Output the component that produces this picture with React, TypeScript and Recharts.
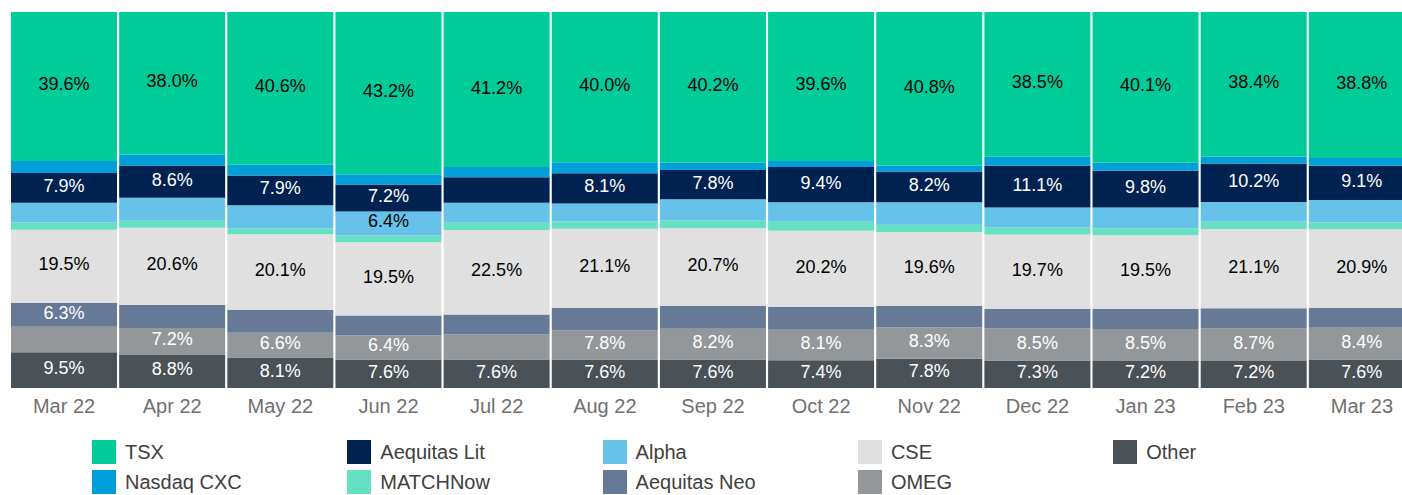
import { BarChart, Bar, XAxis, YAxis, LabelList } from "recharts";

const months = ["Mar 22", "Apr 22", "May 22", "Jun 22", "Jul 22", "Aug 22", "Sep 22", "Oct 22", "Nov 22", "Dec 22", "Jan 23", "Feb 23", "Mar 23"];

const tsx = [39.6, 38.0, 40.6, 43.2, 41.2, 40.0, 40.2, 39.6, 40.8, 38.5, 40.1, 38.4, 38.8];
const nasdaqCxc = [3.2, 2.9, 2.9, 2.7, 2.7, 2.9, 1.9, 1.6, 1.6, 2.4, 2.1, 1.9, 2.1];
const aequitasLit = [7.9, 8.6, 7.9, 7.2, 6.8, 8.1, 7.8, 9.4, 8.2, 11.1, 9.8, 10.2, 9.1];
const alpha = [5.3, 6.1, 6.1, 6.4, 5.3, 4.8, 5.6, 5.2, 6.0, 5.3, 5.5, 5.3, 5.9];
const matchNow = [1.9, 1.9, 1.6, 1.8, 1.9, 1.9, 2.1, 2.4, 1.9, 1.9, 1.9, 1.9, 1.9];
const cse = [19.5, 20.6, 20.1, 19.5, 22.5, 21.1, 20.7, 20.2, 19.6, 19.7, 19.5, 21.1, 20.9];
const aequitasNeo = [6.3, 6.1, 6.1, 5.3, 5.3, 5.9, 6.1, 6.1, 5.8, 5.3, 5.4, 5.3, 5.3];
const omeg = [6.8, 7.2, 6.6, 6.4, 6.6, 7.8, 8.2, 8.1, 8.3, 8.5, 8.5, 8.7, 8.4];
const other = [9.5, 8.8, 8.1, 7.6, 7.6, 7.6, 7.6, 7.4, 7.8, 7.3, 7.2, 7.2, 7.6];

// which months carry a value label, per series
const tsxLabels = months;
const litLabels = months.filter((m) => m !== "Jul 22");
const alphaLabels = ["Jun 22"];
const cseLabels = months;
const neoLabels = ["Mar 22"];
const omegLabels = months.filter((m) => m !== "Mar 22" && m !== "Jul 22");
const otherLabels = months;

// bottom to top
const SERIES = [
  { key: "other", name: "Other", values: other, color: "#4a5157", text: "#ffffff", labels: otherLabels },
  { key: "omeg", name: "OMEG", values: omeg, color: "#939799", text: "#ffffff", labels: omegLabels },
  { key: "neo", name: "Aequitas Neo", values: aequitasNeo, color: "#667a98", text: "#ffffff", labels: neoLabels },
  { key: "cse", name: "CSE", values: cse, color: "#dfe0df", text: "#000000", labels: cseLabels },
  { key: "matchnow", name: "MATCHNow", values: matchNow, color: "#66e0c2", text: "#000000", labels: [] as string[] },
  { key: "alpha", name: "Alpha", values: alpha, color: "#66c2e9", text: "#000000", labels: alphaLabels },
  { key: "lit", name: "Aequitas Lit", values: aequitasLit, color: "#002251", text: "#ffffff", labels: litLabels },
  { key: "nasdaq", name: "Nasdaq CXC", values: nasdaqCxc, color: "#009fda", text: "#ffffff", labels: [] as string[] },
  { key: "tsx", name: "TSX", values: tsx, color: "#00cc99", text: "#000000", labels: tsxLabels },
];

const LEGEND_ROWS = [
  ["TSX", "Aequitas Lit", "Alpha", "CSE", "Other"],
  ["Nasdaq CXC", "MATCHNow", "Aequitas Neo", "OMEG"],
];

const data = months.map((m, i) => {
  const row: Record<string, string | number> = { month: m };
  SERIES.forEach((s) => {
    row[s.key] = s.values[i];
  });
  return row;
});

const FONT = "'Liberation Sans', Arial, sans-serif";

function makeLabel(s: (typeof SERIES)[number]) {
  return (props: any) => {
    const { x, y, width, height, index } = props;
    if (!s.labels.includes(months[index])) return null;
    return (
      <text
        x={x + width / 2}
        y={y + height / 2 - 2}
        textAnchor="middle"
        dominantBaseline="central"
        fontSize={18}
        fill={s.text}
        fontFamily={FONT}
      >
        {s.values[index].toFixed(1)}%
      </text>
    );
  };
}

export default function App() {
  return (
    <div
      style={{
        position: "absolute",
        left: 0,
        top: 0,
        width: 1402,
        height: 495,
        overflow: "hidden",
        background: "#fff",
        fontFamily: FONT,
      }}
    >
      <BarChart
        width={1416}
        height={420}
        data={data}
        stackOffset="expand"
        barCategoryGap={1}
        margin={{ top: 12, right: 0, left: 10, bottom: 0 }}
      >
        <XAxis
          dataKey="month"
          height={32}
          axisLine={false}
          tickLine={false}
          tickMargin={5}
          interval={0}
          tick={{ fontSize: 20, fill: "#707070", fontFamily: FONT }}
        />
        <YAxis hide domain={[0, 1]} />
        {SERIES.map((s) => (
          <Bar key={s.key} dataKey={s.key} name={s.name} stackId="a" fill={s.color} isAnimationActive={false}>
            <LabelList dataKey={s.key} content={makeLabel(s)} />
          </Bar>
        ))}
      </BarChart>
      {LEGEND_ROWS.map((row, r) =>
        row.map((name, c) => {
          const s = SERIES.find((x) => x.name === name)!;
          return (
            <div
              key={name}
              style={{
                position: "absolute",
                left: 92 + c * 255.3,
                top: 440 + r * 30,
                display: "flex",
                alignItems: "center",
                height: 24,
              }}
            >
              <div style={{ width: 24, height: 24, background: s.color, marginRight: 9 }} />
              <span style={{ fontSize: 20, lineHeight: "24px", color: "#404040", whiteSpace: "nowrap" }}>{name}</span>
            </div>
          );
        })
      )}
    </div>
  );
}
